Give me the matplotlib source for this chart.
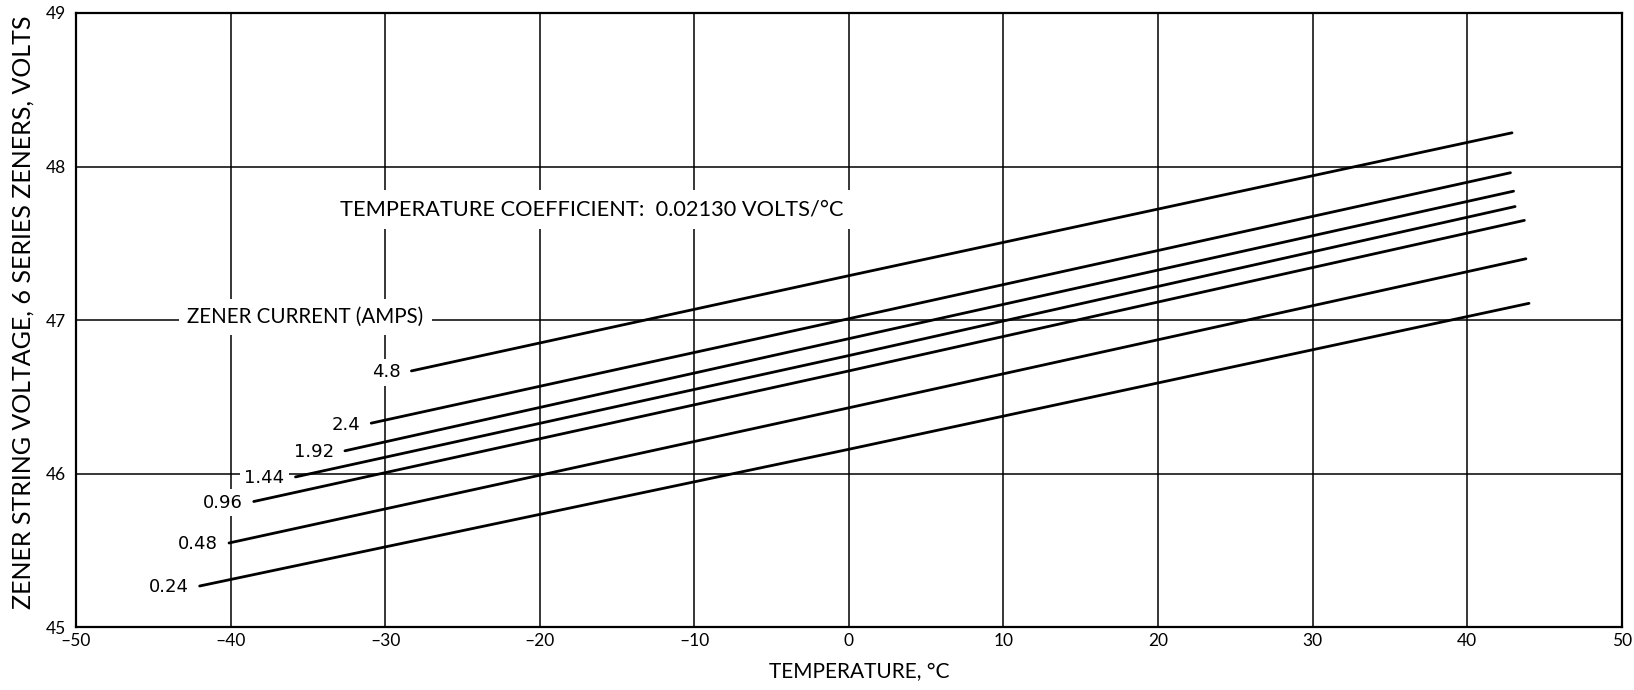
import matplotlib
matplotlib.use("Agg")
import matplotlib.pyplot as plt

plt.rcParams['font.family'] = ['Lato', 'DejaVu Sans']

# Zener current (amps) for each curve
currents = ["4.8", "2.4", "1.92", "1.44", "0.96", "0.48", "0.24"]
# Curve start, middle (0 °C) and end points
t_start = [-28.3, -30.9, -32.6, -35.8, -38.5, -40.1, -42.0]
v_start = [46.67, 46.33, 46.15, 45.98, 45.82, 45.55, 45.27]
t_mid = [0, 0, 0, 0, 0, 0, 0]
v_mid = [47.29, 47.01, 46.88, 46.77, 46.67, 46.43, 46.16]
t_end = [42.9, 42.8, 43.0, 43.1, 43.7, 43.8, 44.0]
v_end = [48.22, 47.96, 47.84, 47.74, 47.65, 47.40, 47.11]

x_ticks = [-50, -40, -30, -20, -10, 0, 10, 20, 30, 40, 50]
y_ticks = [45, 46, 47, 48, 49]

fig = plt.figure(figsize=(16.34, 6.90), dpi=100)
ax = fig.add_axes([0.0465, 0.0906, 0.946, 0.8906])

ax.set_xlim(-50, 50)
ax.set_ylim(45, 49)
ax.set_xticks(x_ticks)
ax.set_yticks(y_ticks)
ax.set_xticklabels([("\u2013" + str(-v)) if v < 0 else str(v) for v in x_ticks])
ax.tick_params(axis='both', length=0, labelsize=12.5, colors='black')
ax.tick_params(axis='x', pad=4)
ax.tick_params(axis='y', pad=7)
ax.set_axisbelow(True)
ax.grid(True, color='black', linewidth=1.1)
for s in ax.spines.values():
    s.set_linewidth(1.6)
    s.set_color('black')

for i, c in enumerate(currents):
    ax.plot([t_start[i], t_mid[i], t_end[i]], [v_start[i], v_mid[i], v_end[i]],
            color='black', linewidth=2.0, solid_capstyle='round', zorder=3)
    ax.annotate(c, xy=(t_start[i], v_start[i]), xytext=(-8, -1),
                textcoords='offset points', ha='right', va='center',
                fontsize=13, family=['DejaVu Sans'], zorder=4,
                bbox=dict(boxstyle='square,pad=0.25', fc='white', ec='none'))

ax.text(-42.8, 47.02, "ZENER CURRENT (AMPS)", fontsize=14.8, ha='left', va='center',
        zorder=4, bbox=dict(boxstyle='square,pad=0.4', fc='white', ec='none'))
ax.text(-32.9, 47.72, "TEMPERATURE COEFFICIENT:  0.02130 VOLTS/\u00b0C", fontsize=15.7,
        ha='left', va='center', zorder=4,
        bbox=dict(boxstyle='square,pad=0.45', fc='white', ec='none'))

ax.set_xlabel("TEMPERATURE, \u00b0C", fontsize=15, va='center')
ax.xaxis.set_label_coords(0.5066, -0.0724)
ax.set_ylabel("ZENER STRING VOLTAGE, 6 SERIES ZENERS, VOLTS", fontsize=18, va='center')
ax.yaxis.set_label_coords(-0.0345, 0.513)

fig.savefig("out.png", dpi=100)
